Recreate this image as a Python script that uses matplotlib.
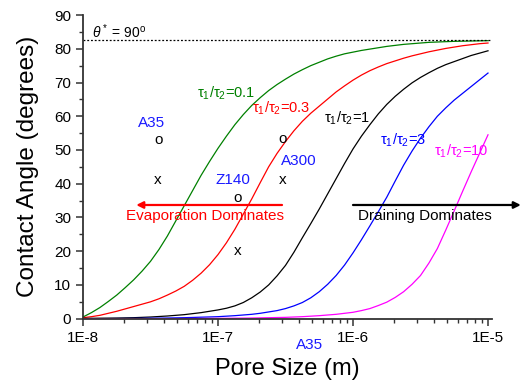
import numpy as np
import matplotlib
matplotlib.use("Agg")
import matplotlib.pyplot as plt
from matplotlib.ticker import FixedLocator, NullFormatter

plt.rcParams['font.family'] = ['Liberation Sans', 'DejaVu Sans']
plt.rcParams['mathtext.fontset'] = 'custom'
plt.rcParams['mathtext.rm'] = 'Liberation Sans'
plt.rcParams['mathtext.it'] = 'Liberation Sans:italic'

# pore size exponents (log10 of metres) at which the curves were read
log_pore = [-8.0, -7.9375, -7.875, -7.8125, -7.75, -7.6875, -7.625, -7.5625,
            -7.5, -7.4375, -7.375, -7.3125, -7.25, -7.1875, -7.125, -7.0625,
            -7.0, -6.9375, -6.875, -6.8125, -6.75, -6.6875, -6.625, -6.5625,
            -6.5, -6.4375, -6.375, -6.3125, -6.25, -6.1875, -6.125, -6.0625,
            -6.0, -5.9375, -5.875, -5.8125, -5.75, -5.6875, -5.625, -5.5625,
            -5.5, -5.4375, -5.375, -5.3125, -5.25, -5.1875, -5.125, -5.0625, -5.0]

theta_01 = [0.5, 1.8, 3.3, 5.1, 7.0, 9.2, 11.5, 14.1, 17.0, 20.5, 24.5, 29.0, 33.5,
            38.0, 42.5, 46.6, 50.5, 54.1, 57.5, 60.5, 63.2, 65.5, 67.6, 69.4, 71.0,
            72.5, 73.8, 75.0, 76.0, 77.0, 77.8, 78.5, 79.0, 79.5, 79.9, 80.3, 80.7,
            81.0, 81.3, 81.5, 81.7, 81.9, 82.0, 82.1, 82.2, 82.25, 82.3, 82.35, 82.4]
theta_03 = [0.3, 0.6, 1.0, 1.6, 2.2, 2.9, 3.6, 4.3, 5.0, 5.9, 7.0, 8.2, 9.6,
            11.4, 13.5, 16.0, 19.0, 22.5, 26.5, 31.0, 35.5, 40.3, 45.0, 49.0, 52.5,
            55.7, 58.5, 60.9, 63.0, 65.1, 67.2, 69.0, 70.7, 72.2, 73.5, 74.6, 75.6,
            76.4, 77.2, 77.9, 78.5, 79.1, 79.6, 80.1, 80.5, 80.9, 81.2, 81.5, 81.7]
theta_1 = [0.1, 0.12, 0.15, 0.17, 0.2, 0.25, 0.3, 0.4, 0.5, 0.65, 0.8, 1.0, 1.2,
           1.5, 1.8, 2.2, 2.6, 3.1, 3.8, 4.8, 6.2, 7.9, 10.0, 12.7, 15.8,
           19.7, 24.0, 28.2, 32.5, 37.0, 41.5, 46.0, 50.3, 54.1, 57.5, 60.7, 63.5,
           65.9, 68.0, 69.9, 71.5, 72.9, 74.2, 75.3, 76.2, 77.1, 78.0, 78.7, 79.4]
theta_3 = [0.0, 0.01, 0.02, 0.03, 0.05, 0.06, 0.08, 0.11, 0.15, 0.17, 0.2, 0.25, 0.3,
           0.37, 0.45, 0.52, 0.6, 0.75, 0.9, 1.1, 1.3, 1.6, 2.0, 2.4, 3.0,
           3.8, 4.8, 6.2, 8.0, 10.2, 12.8, 15.9, 19.5, 23.4, 27.5, 31.7, 36.0,
           40.8, 45.5, 49.7, 53.5, 56.9, 60.0, 62.5, 64.8, 66.8, 68.8, 70.8, 72.8]
theta_10 = [0.0, 0.0, 0.0, 0.0, 0.0, 0.0, 0.0, 0.01, 0.01, 0.015, 0.02, 0.03, 0.04,
            0.05, 0.06, 0.08, 0.1, 0.12, 0.15, 0.17, 0.2, 0.25, 0.3, 0.35, 0.4,
            0.5, 0.6, 0.75, 0.9, 1.1, 1.3, 1.6, 1.9, 2.4, 3.0, 3.9, 4.9,
            6.3, 8.0, 10.2, 12.8, 16.5, 20.8, 26.3, 32.0, 37.8, 43.5, 49.0, 54.5]

curve_names = ['0.1', '0.3', '1', '3', '10']
curve_colors = ['#008000', '#ff0000', '#000000', '#0000ff', '#ff00ff']
curve_label_x = [1.15e-7, 2.96e-7, 8.97e-7, 2.36e-6, 6.3e-6]
curve_label_y = [66.9, 62.4, 59.5, 53.0, 49.6]

# measured samples: pore size, advancing (o) and receding (x) angles
sample_names = ['A35', 'Z140', 'A300']
sample_size = [3.6e-8, 1.39e-7, 3.03e-7]
sample_o = [53.0, 35.7, 53.3]
sample_x = [41.0, 20.2, 41.0]
sample_label_x = [3.2e-8, 1.28e-7, 3.94e-7]
sample_label_y = [58.0, 41.0, 46.6]

theta_star = 82.5

pore = 10.0 ** np.array(log_pore)

fig = plt.figure(figsize=(5.2, 3.85), dpi=100)
ax = fig.add_axes([0.1596, 0.1722, 0.7865, 0.7888])

for th, c in zip([theta_01, theta_03, theta_1, theta_3, theta_10], curve_colors):
    ax.plot(pore, th, color=c, lw=0.9)

ax.plot([1e-8, 1.05e-5], [theta_star, theta_star], ls=(0, (1.5, 1.5)), color='k', lw=0.9)
ax.text(1.16e-8, 85.2, r'$\theta^*$ = 90$^{\mathregular{o}}$', fontsize=10, va='center', ha='left')

for name, c, lx, ly in zip(curve_names, curve_colors, curve_label_x, curve_label_y):
    ax.text(lx, ly, r'$\mathregular{\tau_1/\tau_2}$=' + name, color=c, fontsize=10.5,
            ha='center', va='center')

for s, o, x in zip(sample_size, sample_o, sample_x):
    ax.text(s, o, 'o', fontsize=11, ha='center', va='center')
    ax.text(s, x, 'x', fontsize=11, ha='center', va='center')
for name, lx, ly in zip(sample_names, sample_label_x, sample_label_y):
    ax.text(lx, ly, name, color='#1a1aff', fontsize=11, ha='center', va='center')
ax.text(4.8e-7, -7.8, 'A35', color='#1a1aff', fontsize=11, ha='center', va='center')

# dominance arrows
ax.annotate('', xy=(2.48e-8, 33.7), xytext=(2.98e-7, 33.7),
            arrowprops=dict(arrowstyle='-|>', color='#ff0000', lw=1.6,
                            mutation_scale=10, shrinkA=0, shrinkB=0))
ax.text(8.0e-8, 30.4, 'Evaporation Dominates', color='#ff0000', fontsize=11,
        ha='center', va='center')
ax.annotate('', xy=(1.75e-5, 33.7), xytext=(1.0e-6, 33.7), annotation_clip=False,
            arrowprops=dict(arrowstyle='-|>', color='k', lw=1.6,
                            mutation_scale=10, shrinkA=0, shrinkB=0))
ax.text(3.4e-6, 30.4, 'Draining Dominates', color='k', fontsize=11,
        ha='center', va='center', clip_on=False)

ax.set_xscale('log')
ax.set_xlim(1e-8, 1.07e-5)
ax.set_ylim(0, 90)
ax.xaxis.set_major_locator(FixedLocator([1e-8, 1e-7, 1e-6, 1e-5]))
ax.set_xticklabels(['1E-8', '1E-7', '1E-6', '1E-5'])
ax.xaxis.set_minor_locator(FixedLocator([m * 10.0 ** e for e in [-8, -7, -6] for m in range(2, 10)]))
ax.xaxis.set_minor_formatter(NullFormatter())
ax.set_yticks(np.arange(0, 91, 10))
ax.yaxis.set_minor_locator(FixedLocator(np.arange(5, 90, 10)))

for sp in ['top', 'right']:
    ax.spines[sp].set_visible(False)
for sp in ['left', 'bottom']:
    ax.spines[sp].set_linewidth(1.3)
    ax.spines[sp].set_color('#333333')
ax.tick_params(which='major', direction='out', length=5, width=1.1, labelsize=11, color='#333333')
ax.tick_params(which='minor', direction='out', length=3, width=1.0, color='#333333')

ax.set_xlabel('Pore Size (m)', fontsize=17, labelpad=10)
ax.set_ylabel('Contact Angle (degrees)', fontsize=17.5, labelpad=11)

fig.savefig('out.png', dpi=100)
